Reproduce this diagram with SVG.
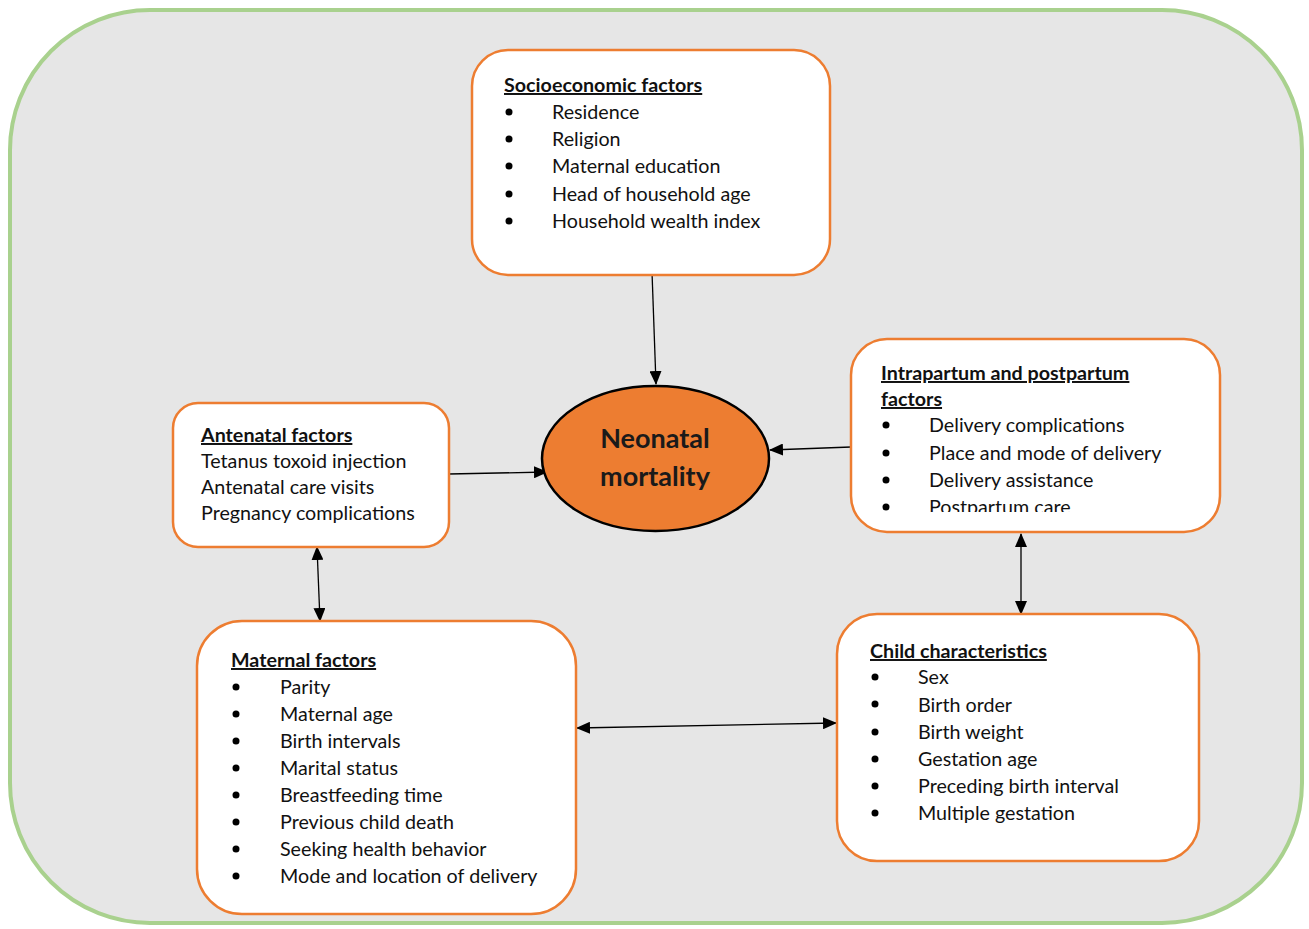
<svg xmlns="http://www.w3.org/2000/svg" width="1309" height="929" viewBox="0 0 1309 929">
<defs>
<style>
.box{fill:#FFFFFF;stroke:#ED7D31;stroke-width:2.5}
.t{font-family:Lato,"Open Sans","Liberation Sans",sans-serif;font-size:19.7px;fill:#111111}
.h{font-family:Lato,"Open Sans","Liberation Sans",sans-serif;font-size:19.7px;font-weight:bold;fill:#111111;text-decoration:underline}
.n{font-family:Lato,"Open Sans","Liberation Sans",sans-serif;font-size:27px;font-weight:bold;fill:#1A1A1A}
.c{stroke:#000000;stroke-width:1.3;fill:none}
.dot{fill:#000000}
</style>
<marker id="ah" viewBox="0 0 14 12" refX="13" refY="6" markerWidth="14" markerHeight="12" markerUnits="userSpaceOnUse" orient="auto-start-reverse">
<path d="M0,0 L14,6 L0,12 Z" fill="#000000"/>
</marker>
<clipPath id="clipIP"><rect x="851" y="339" width="370" height="173"/></clipPath>
</defs>
<rect x="0" y="0" width="1309" height="929" fill="#FFFFFF"/>
<rect id="frame" x="10" y="10" width="1292" height="913" rx="140" ry="140" fill="#E6E6E6" stroke="#A9D18E" stroke-width="4"/>

<g id="connectors">
<line class="c" x1="652" y1="272" x2="656" y2="384" marker-end="url(#ah)"/>
<line class="c" x1="449" y1="474" x2="547" y2="472" marker-end="url(#ah)"/>
<line class="c" x1="851" y1="447" x2="770" y2="450" marker-end="url(#ah)"/>
<line class="c" x1="317" y1="547" x2="320" y2="621" marker-start="url(#ah)" marker-end="url(#ah)"/>
<line class="c" x1="1021" y1="534" x2="1021" y2="614" marker-start="url(#ah)" marker-end="url(#ah)"/>
<line class="c" x1="577" y1="728" x2="836" y2="723" marker-start="url(#ah)" marker-end="url(#ah)"/>
</g>

<g id="socioeconomic">
<rect class="box" x="472" y="50" width="358" height="225" rx="36"/>
<text class="h" x="504" y="92">Socioeconomic factors</text>
<circle class="dot" cx="509" cy="112" r="3.5"/><text class="t" x="552" y="119">Residence</text>
<circle class="dot" cx="509" cy="139" r="3.5"/><text class="t" x="552" y="146">Religion</text>
<circle class="dot" cx="509" cy="166" r="3.5"/><text class="t" x="552" y="173">Maternal education</text>
<circle class="dot" cx="509" cy="194" r="3.5"/><text class="t" x="552" y="201">Head of household age</text>
<circle class="dot" cx="509" cy="221" r="3.5"/><text class="t" x="552" y="228">Household wealth index</text>
</g>

<g id="antenatal">
<rect class="box" x="173" y="403" width="276" height="144" rx="25"/>
<text class="h" x="201" y="442">Antenatal factors</text>
<text class="t" x="201" y="468">Tetanus toxoid injection</text>
<text class="t" x="201" y="494">Antenatal care visits</text>
<text class="t" x="201" y="520">Pregnancy complications</text>
</g>

<g id="neonatal">
<ellipse cx="655.5" cy="458.5" rx="113.5" ry="72.5" fill="#ED7D31" stroke="#000000" stroke-width="2.5"/>
<text class="n" x="655" y="448" text-anchor="middle">Neonatal</text>
<text class="n" x="655" y="486" text-anchor="middle">mortality</text>
</g>

<g id="intrapartum">
<rect class="box" x="851" y="339" width="369" height="193" rx="36"/>
<g clip-path="url(#clipIP)">
<text class="h" x="881" y="380">Intrapartum and postpartum</text>
<text class="h" x="881" y="406">factors</text>
<circle class="dot" cx="886" cy="425" r="3.5"/><text class="t" x="929" y="432">Delivery complications</text>
<circle class="dot" cx="886" cy="453" r="3.5"/><text class="t" x="929" y="460">Place and mode of delivery</text>
<circle class="dot" cx="886" cy="480" r="3.5"/><text class="t" x="929" y="487">Delivery assistance</text>
<circle class="dot" cx="886" cy="507" r="3.5"/><text class="t" x="929" y="514">Postpartum care</text>
</g>
</g>

<g id="maternal">
<rect class="box" x="197" y="621" width="379" height="293" rx="45"/>
<text class="h" x="231" y="667">Maternal factors</text>
<circle class="dot" cx="236" cy="687" r="3.5"/><text class="t" x="280" y="694">Parity</text>
<circle class="dot" cx="236" cy="714" r="3.5"/><text class="t" x="280" y="721">Maternal age</text>
<circle class="dot" cx="236" cy="741" r="3.5"/><text class="t" x="280" y="748">Birth intervals</text>
<circle class="dot" cx="236" cy="768" r="3.5"/><text class="t" x="280" y="775">Marital status</text>
<circle class="dot" cx="236" cy="795" r="3.5"/><text class="t" x="280" y="802">Breastfeeding time</text>
<circle class="dot" cx="236" cy="822" r="3.5"/><text class="t" x="280" y="829">Previous child death</text>
<circle class="dot" cx="236" cy="849" r="3.5"/><text class="t" x="280" y="856">Seeking health behavior</text>
<circle class="dot" cx="236" cy="876" r="3.5"/><text class="t" x="280" y="883">Mode and location of delivery</text>
</g>

<g id="child">
<rect class="box" x="837" y="614" width="362" height="247" rx="40"/>
<text class="h" x="870" y="658">Child characteristics</text>
<circle class="dot" cx="875" cy="677" r="3.5"/><text class="t" x="918" y="684">Sex</text>
<circle class="dot" cx="875" cy="704" r="3.5"/><text class="t" x="918" y="712">Birth order</text>
<circle class="dot" cx="875" cy="732" r="3.5"/><text class="t" x="918" y="739">Birth weight</text>
<circle class="dot" cx="875" cy="759" r="3.5"/><text class="t" x="918" y="766">Gestation age</text>
<circle class="dot" cx="875" cy="786" r="3.5"/><text class="t" x="918" y="793">Preceding birth interval</text>
<circle class="dot" cx="875" cy="813" r="3.5"/><text class="t" x="918" y="820">Multiple gestation</text>
</g>
</svg>
